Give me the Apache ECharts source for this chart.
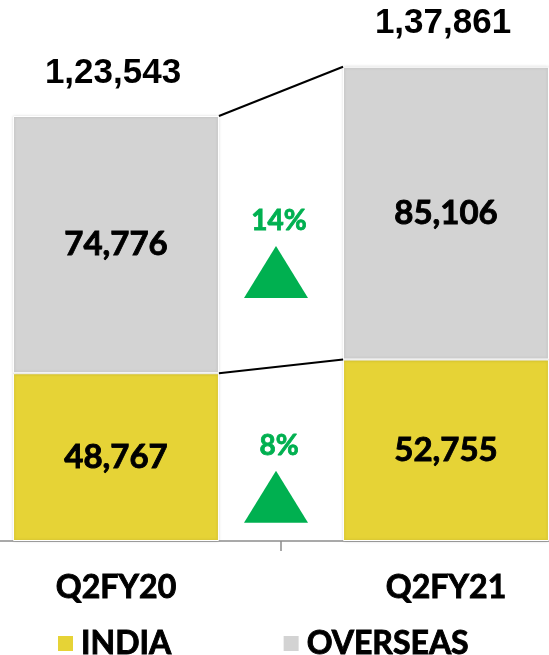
<!DOCTYPE html>
<html>
<head>
<meta charset="utf-8">
<script src="https://cdn.jsdelivr.net/npm/echarts@6/dist/echarts.min.js"></script>
<style>html,body{margin:0;padding:0;background:#fff}#c{width:549px;height:655px}</style>
</head>
<body>
<div id="c"></div>
<script>
var categories = ['Q2FY20', 'Q2FY21'];
var india = [48767, 52755];
var overseas = [74776, 85106];
var growth = ['8%', '14%'];
var seriesNames = ['INDIA', 'OVERSEAS'];

var totals = india.map(function (v, i) { return v + overseas[i]; });
function fmtIN(n) {
  var s = String(n);
  if (s.length <= 3) return s;
  var last3 = s.slice(-3), rest = s.slice(0, -3);
  rest = rest.replace(/\B(?=(\d{2})+(?!\d))/g, ',');
  return rest + ',' + last3;
}
var BAR_FRAC = 0.624;
var chart = echarts.init(document.getElementById('c'), null, {renderer: 'canvas'});
var W = 'bold';
var numFont = {fontFamily: 'Lato', fontWeight: W, fontSize: 33, color: '#000', textBorderColor: '#000', textBorderWidth: 0.9};

var option = {
  animation: false,
  backgroundColor: '#fff',
  grid: {left: -49, right: -62, top: 25, bottom: 114, containLabel: false, outerBoundsMode: 'none'},
  legend: {
    data: seriesNames, left: 51, top: 622, itemWidth: 17, itemHeight: 17, itemGap: 110,
    icon: 'rect', selectedMode: false,
    textStyle: {fontFamily: 'Lato', fontWeight: W, fontSize: 32, color: '#000', lineHeight: 32, padding: [0, 0, 0, 2], textBorderColor: '#000', textBorderWidth: 0.9}
  },
  xAxis: {
    type: 'category', data: categories,
    axisLine: {lineStyle: {color: '#8c8c8c', width: 1.5}},
    axisTick: {show: true, length: 10, lineStyle: {color: '#8c8c8c', width: 1.5}},
    axisLabel: {fontFamily: 'Lato', fontWeight: W, fontSize: 32, color: '#000', margin: 31, textBorderColor: '#000', textBorderWidth: 0.9}
  },
  yAxis: {type: 'value', min: 0, max: 150000, show: false, splitLine: {show: false}},
  series: [
    {
      name: 'INDIA', type: 'bar', stack: 'a', data: india, barWidth: (BAR_FRAC * 100) + '%',
      itemStyle: {color: '#E6D336', borderColor: '#fff', borderWidth: 1, shadowColor: 'rgba(0,0,0,0.18)', shadowBlur: 3},
      label: Object.assign({show: true, position: 'inside', formatter: function (p) { return p.value.toLocaleString('en-US'); }}, numFont)
    },
    {
      name: 'OVERSEAS', type: 'bar', stack: 'a', data: overseas, barWidth: (BAR_FRAC * 100) + '%',
      itemStyle: {color: '#D3D3D3', borderColor: '#fff', borderWidth: 1, shadowColor: 'rgba(0,0,0,0.18)', shadowBlur: 3},
      label: Object.assign({show: true, position: 'inside', formatter: function (p) { return p.value.toLocaleString('en-US'); }}, numFont)
    },
    {
      name: 'totals', type: 'custom', clip: false, z: 5,
      data: totals.map(function (t, i) { return [i, t]; }),
      renderItem: function (params, api) {
        var p = api.coord([api.value(0), api.value(1)]);
        return {
          type: 'text', x: p[0] - 3, y: p[1] - 43,
          style: {text: fmtIN(api.value(1)), fontFamily: 'Liberation Sans', fontWeight: 'bold', fontSize: 35, fill: '#000', align: 'center', verticalAlign: 'middle'}
        };
      }
    },
    {
      name: 'connectors', type: 'custom', clip: false, z: 6,
      data: [[0, 0], [1, 0]],
      renderItem: function (params, api) {
        var seg = params.dataIndex;
        var top = seg === 0 ? india : totals;
        var low = seg === 0 ? [0, 0] : india;
        var a = api.coord([0, top[0]]), b = api.coord([1, top[1]]);
        var a0 = api.coord([0, low[0]]), b0 = api.coord([1, low[1]]);
        var hw = api.size([1, 0])[0] * BAR_FRAC / 2;
        var mid = ((a[1] + a0[1]) / 2 + (b[1] + b0[1]) / 2) / 2;
        var cx = (a[0] + b[0]) / 2;
        return {
          type: 'group',
          children: [
            {type: 'line', shape: {x1: a[0] + hw, y1: a[1], x2: b[0] - hw, y2: b[1]}, style: {stroke: '#000', lineWidth: 2}},
            {type: 'text', x: cx - 2, y: mid - 8, style: {text: growth[seg], fontFamily: 'Lato', fontWeight: W, fontSize: 28, fill: '#00B050', stroke: '#00B050', lineWidth: 0.8, align: 'center', verticalAlign: 'middle'}},
            {type: 'polygon', shape: {points: [[cx - 5, mid + 17], [cx - 37, mid + 69], [cx + 27, mid + 69]]}, style: {fill: '#00B050'}}
          ]
        };
      }
    }
  ]
};
chart.setOption(option);
</script>
</body>
</html>
